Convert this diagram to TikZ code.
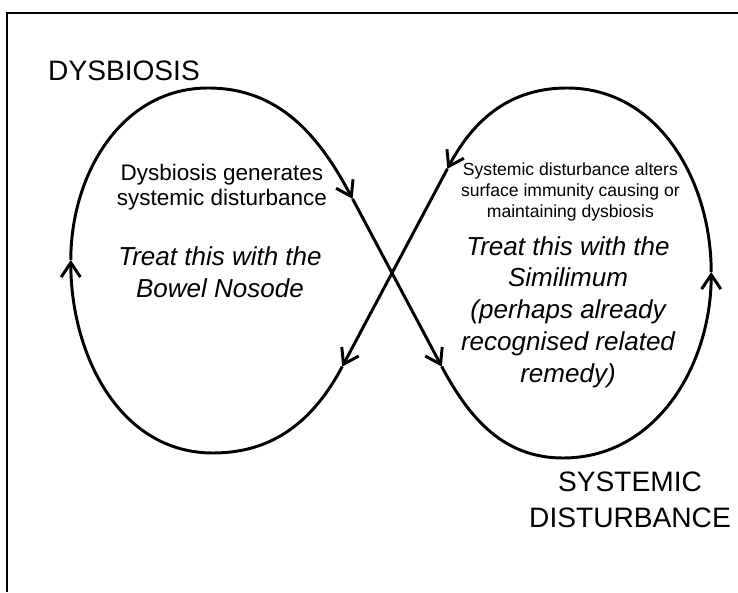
\documentclass[tikz,border=0pt]{standalone}
\usepackage{fontspec}
\setmainfont{Liberation Sans}
\usetikzlibrary{arrows.meta, calc}

\begin{document}
\begin{tikzpicture}[
    heading/.style={font=\fontsize{20}{25.6}\selectfont, align=center, inner sep=0pt},
    remark/.style 2 args={font=\fontsize{#1}{#2}\selectfont, align=center, inner sep=0pt},
    treatment/.style={font=\fontsize{18.5}{22.6}\selectfont\itshape, align=center, inner sep=0pt},
    eight/.style={line width=2.1pt, -{Straight Barb[length=3.6mm, width=4.8mm]}}
]
\useasboundingbox (0,0) rectangle (18.45,14.8);
\draw[line width=1.8pt] (0.175,0) |- (18.6,14.475);

% crossing point and the turning points of both loops
\coordinate (X) at (9.8,7.975);
\coordinate (lt) at (5.2,12.6);
\coordinate (ll) at (1.77,8.3);
\coordinate (lb) at (5.325,3.475);
\coordinate (rt) at (14.175,12.6);
\coordinate (rr) at (17.78,8.0);
\coordinate (rb) at (14.075,3.35);
\coordinate (a1) at ($(X)+(118:2.1)$);
\coordinate (a2) at ($(X)+(-62:2.65)$);
\coordinate (a4) at ($(X)+(62:2.95)$);
\coordinate (a5) at ($(X)+(242:2.65)$);

\draw[eight] (ll) to[out=90,in=180] (lt) to[out=0,in=118] (a1);
\draw[eight] (a1) -- (X) -- (a2);
\draw[eight] (a2) to[out=-62,in=180] (rb) to[out=0,in=-90] (rr);
\draw[eight] (rr) to[out=90,in=0] (rt) to[out=180,in=62] (a4);
\draw[eight] (a4) -- (X) -- (a5);
\draw[eight] (a5) to[out=242,in=0] (lb) to[out=180,in=-90] (ll);

\node[heading] (dys) at (3.1,13.025) {DYSBIOSIS};
\node[heading] (sysdist) at (15.75,2.3) {SYSTEMIC\\DISTURBANCE};

\node[remark={16}{17.8}] (gen) at (5.55,10.13) {Dysbiosis generates\\systemic disturbance};
\node[treatment] (nosode) at (5.5,8.0) {Treat this with the\\Bowel Nosode};

\node[remark={12.5}{15}] (alter) at (14.26,10.0) {Systemic disturbance alters\\surface immunity causing or\\maintaining dysbiosis};
\node[treatment] (simil) at (14.2,7.0) {Treat this with the\\Similimum\\(perhaps already\\recognised related\\remedy)};
\end{tikzpicture}
\end{document}
